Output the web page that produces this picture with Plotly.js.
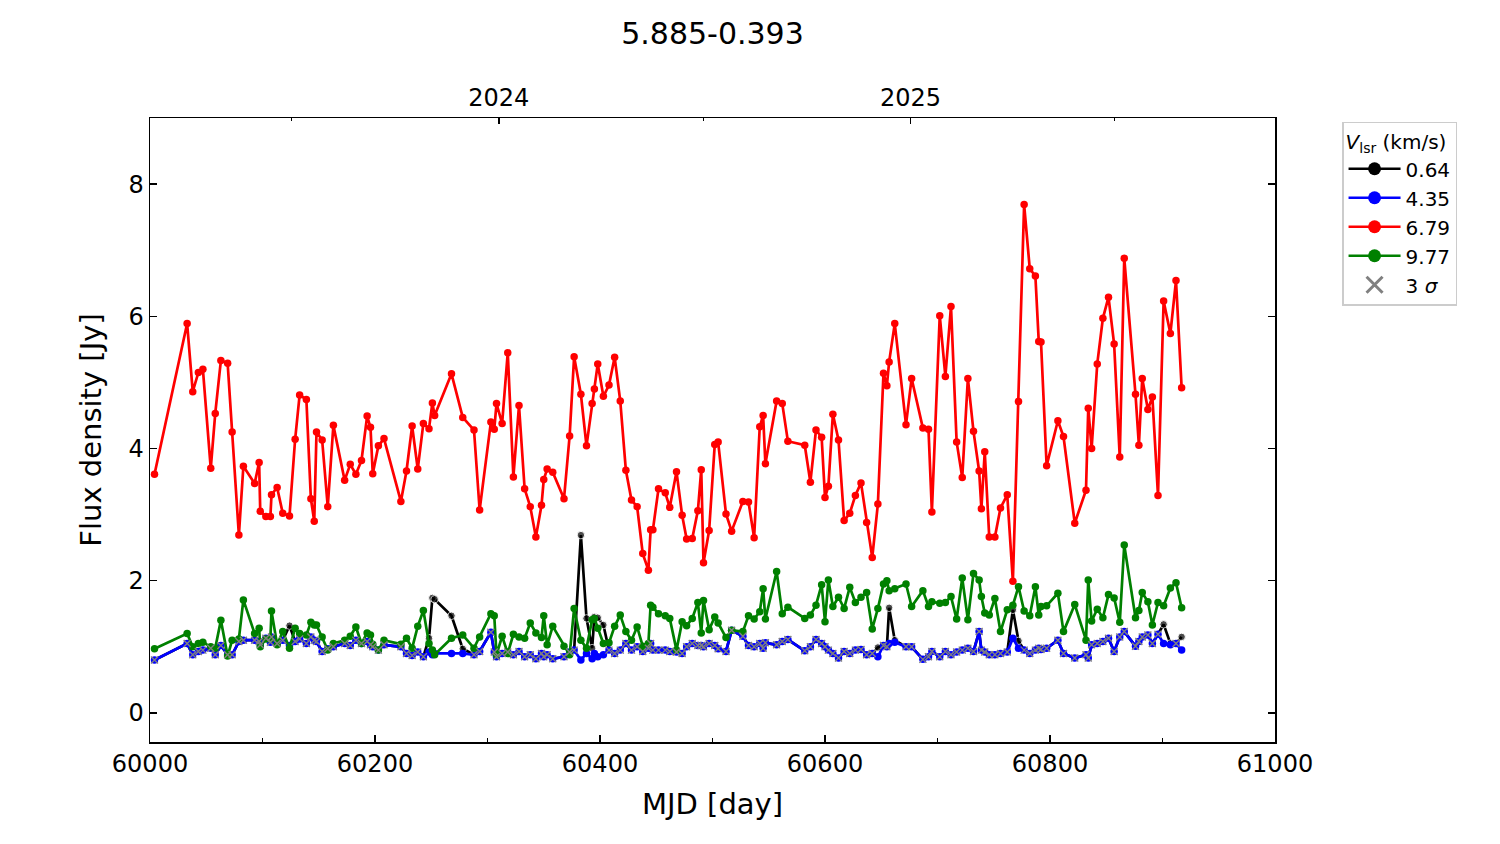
<!DOCTYPE html>
<html>
<head>
<meta charset="utf-8">
<script src="https://cdn.plot.ly/plotly-3.0.1.min.js"></script>
<style>html,body{margin:0;padding:0;background:#fff;}#chart{width:1500px;height:844px;}</style>
</head>
<body>
<div id="chart"></div>
<script>
// Observation epochs (MJD)
const mjd = [60004,60033,60038,60043,60047,60054,60058,60063,60069,60073,
60079,60083,60093,60097,60098,60103,60107,60108,60113,60118,
60124,60129,60133,60139,60143,60146,60148,60153,60158,60163,
60173,60178,60183,60188,60193,60196,60198,60203,60208,60223,
60228,60233,60238,60243,60248,60251,60253,60268,60278,60288,
60293,60303,60306,60308,60313,60318,60323,60328,60333,60338,
60343,60348,60350,60353,60358,60368,60373,60377,60383,60388,
60393,60395,60398,60403,60408,60413,60418,60423,60428,60433,
60438,60443,60445,60447,60452,60458,60462,60468,60473,60477,
60482,60487,60490,60492,60497,60502,60505,60512,60517,60527,
60532,60537,60542,60545,60547,60557,60562,60567,60582,60587,
60592,60597,60600,60603,60607,60612,60617,60622,60627,60632,
60637,60642,60647,60652,60655,60657,60662,60672,60677,60687,
60692,60695,60702,60707,60712,60717,60722,60727,60732,60737,
60739,60742,60746,60751,60756,60762,60767,60772,60777,60782,
60787,60790,60792,60797,60807,60812,60822,60832,60834,60837,
60842,60847,60852,60857,60862,60866,60876,60879,60882,60887,
60891,60896,60901,60907,60912,60917];

// Vlsr = 0.64 km/s (values at non-detections are the 3-sigma limits)
const flux064 = [0.80,1.05,0.88,0.93,0.95,0.98,0.88,1.02,0.88,0.88,
1.08,1.10,1.10,1.08,1.03,1.13,1.07,1.15,1.05,1.10,
1.32,1.08,1.12,1.05,1.15,1.10,1.08,0.93,0.97,1.00,
1.05,1.02,1.10,1.05,1.08,1.03,1.00,0.95,1.03,1.00,
0.90,0.87,0.92,0.85,1.13,1.74,1.72,1.47,0.97,0.88,
0.93,1.22,0.92,0.85,0.90,0.92,0.88,0.93,0.85,0.88,
0.82,0.90,0.85,0.88,0.82,0.85,0.92,0.95,2.69,1.43,
0.98,1.45,1.44,1.33,0.95,0.90,0.95,1.05,0.95,1.00,
0.93,0.98,1.05,0.95,0.95,0.95,0.93,0.92,0.90,1.00,
1.05,1.02,1.02,1.00,1.05,1.02,0.97,0.93,1.25,1.16,
1.02,1.00,1.05,0.98,1.06,1.03,1.08,1.11,0.94,1.00,
1.11,1.05,1.00,0.95,0.90,0.83,0.93,0.90,0.95,0.96,
0.88,0.90,0.99,1.02,1.00,1.59,1.10,1.00,1.00,0.81,
0.85,0.93,0.85,0.93,0.88,0.92,0.95,0.98,0.93,1.23,
0.95,0.92,0.88,0.88,0.90,0.92,1.56,1.09,0.95,0.90,
0.95,0.98,0.96,0.98,1.10,0.90,0.83,0.88,0.83,1.03,
1.05,1.08,1.13,0.93,1.15,1.23,1.01,1.08,1.15,1.18,
1.05,1.19,1.34,1.05,1.05,1.15];
// Epochs where the 0.64 km/s feature is detected (others are 3-sigma limits)
const det064 = [60124,60248,60251,60253,60268,60278,60383,60388,60393,60395,60398,60403,
60647,60657,60662,60767,60772,60901,60907,60917];

// Vlsr = 4.35 km/s
const flux435 = [0.80,1.05,0.88,0.93,0.95,0.98,0.88,1.02,0.88,0.88,
1.08,1.10,1.10,1.08,1.03,1.13,1.07,1.15,1.05,1.10,
1.02,1.08,1.12,1.05,1.15,1.10,1.08,0.93,0.97,1.00,
1.05,1.02,1.10,1.05,1.08,1.03,1.00,0.95,1.03,1.00,
0.90,0.87,0.92,0.85,0.92,0.88,0.90,0.90,0.90,0.88,
0.93,1.22,0.92,0.85,0.90,0.92,0.88,0.93,0.85,0.88,
0.82,0.90,0.85,0.88,0.82,0.85,0.92,0.95,0.80,0.90,
0.82,0.90,0.85,0.88,0.95,0.90,0.95,1.05,0.95,1.00,
0.93,0.98,1.05,0.95,0.95,0.95,0.93,0.92,0.90,1.00,
1.05,1.02,1.02,1.00,1.05,1.02,0.97,0.93,1.25,1.16,
1.02,1.00,1.05,0.98,1.06,1.03,1.08,1.11,0.94,1.00,
1.11,1.05,1.00,0.95,0.90,0.83,0.93,0.90,0.95,0.96,
0.88,0.90,0.85,1.02,1.00,1.05,1.07,1.00,1.00,0.81,
0.85,0.93,0.85,0.93,0.88,0.92,0.95,0.98,0.93,1.23,
0.95,0.92,0.88,0.88,0.90,0.92,1.13,0.98,0.95,0.90,
0.95,0.98,0.96,0.98,1.10,0.90,0.83,0.88,0.83,1.03,
1.05,1.08,1.13,0.93,1.15,1.23,1.01,1.08,1.15,1.18,
1.05,1.19,1.05,1.03,1.05,0.95];

// Vlsr = 6.79 km/s
const flux679 = [3.61,5.89,4.86,5.15,5.20,3.70,4.53,5.33,5.29,4.25,
2.69,3.73,3.47,3.79,3.05,2.97,2.97,3.30,3.41,3.02,
2.98,4.14,4.81,4.74,3.24,2.90,4.25,4.13,3.12,4.35,
3.52,3.76,3.61,3.82,4.49,4.32,3.62,4.04,4.15,3.20,
3.66,4.34,3.69,4.38,4.30,4.69,4.50,5.13,4.47,4.28,
3.07,4.40,4.29,4.68,4.38,5.45,3.57,4.65,3.39,3.12,
2.66,3.14,3.53,3.69,3.64,3.24,4.19,5.39,4.82,4.04,
4.68,4.90,5.28,4.79,4.96,5.38,4.72,3.67,3.22,3.12,
2.41,2.16,2.77,2.77,3.39,3.33,3.11,3.65,2.99,2.63,
2.64,3.06,3.68,2.27,2.76,4.06,4.10,3.01,2.75,3.20,
3.19,2.65,4.33,4.50,3.77,4.72,4.68,4.11,4.05,3.49,
4.28,4.17,3.26,3.43,4.52,4.13,2.91,3.02,3.29,3.48,
2.88,2.35,3.16,5.14,4.95,5.31,5.89,4.36,5.06,4.31,
4.29,3.04,6.01,5.09,6.15,4.10,3.56,5.06,4.26,3.66,
3.09,3.95,2.66,2.66,3.10,3.30,1.99,4.71,7.69,6.72,
6.61,5.62,5.61,3.74,4.42,4.18,2.87,3.37,4.61,4.00,
5.28,5.97,6.29,5.58,3.87,6.88,4.82,4.05,5.06,4.59,
4.78,3.29,6.23,5.74,6.54,4.92];

// Vlsr = 9.77 km/s
const flux977 = [0.97,1.20,1.00,1.05,1.07,1.00,0.98,1.40,0.86,1.10,
1.12,1.71,1.20,1.28,1.00,1.12,1.12,1.54,1.03,1.23,
0.98,1.28,1.20,1.18,1.37,1.33,1.33,1.15,0.95,1.05,
1.10,1.16,1.30,1.05,1.21,1.18,1.04,0.95,1.10,1.04,
1.13,0.98,1.31,1.55,1.05,0.95,0.88,1.13,1.18,0.98,
1.15,1.50,1.47,0.88,1.16,0.90,1.19,1.15,1.13,1.36,
1.21,1.14,1.47,1.03,1.31,1.01,0.88,1.58,1.10,0.98,
1.41,1.43,1.28,1.05,1.06,1.31,1.48,1.23,1.10,1.30,
1.01,1.05,1.63,1.60,1.50,1.47,1.43,0.95,1.38,1.32,
1.43,1.67,1.21,1.70,1.26,1.45,1.36,1.14,1.25,1.23,
1.47,1.42,1.53,1.88,1.42,2.14,1.50,1.60,1.43,1.48,
1.63,1.94,1.38,2.01,1.61,1.75,1.58,1.90,1.67,1.75,
1.82,1.27,1.58,1.95,2.00,1.85,1.88,1.95,1.61,1.85,
1.61,1.68,1.66,1.67,1.76,1.42,2.04,1.41,2.11,2.01,
1.76,1.51,1.48,1.73,1.23,1.56,1.63,1.91,1.54,1.47,
1.91,1.48,1.61,1.62,1.81,1.23,1.64,1.10,2.01,1.39,
1.57,1.44,1.79,1.74,1.37,2.54,1.44,1.55,1.82,1.68,
1.33,1.67,1.62,1.89,1.97,1.59];

const seriesNames = ['0.64','4.35','6.79','9.77'];
const sigmaLabel = '3 <i>σ</i>';
const xTickVals = [60000,60200,60400,60600,60800,61000];
const xTickText = ['60000','60200','60400','60600','60800','61000'];
const xMinorVals = [60100,60300,60500,60700,60900];
const yearTickVals = [60310,60676];
const yearTickText = ['2024','2025'];
const halfYearVals = [60126,60492,60857];
const yTickVals = [0,2,4,6,8];
const yTickText = ['0','2','4','6','8'];

const LW = 2.7, MS = 7.5;
const isDet = mjd.map(d => det064.includes(d));
const limX = mjd.filter((d,i) => !isDet[i]);
const limY = flux064.filter((v,i) => !isDet[i]);

const traces = [
  {x: mjd, y: flux064, mode:'lines+markers', line:{color:'black', width:LW},
   marker:{color:'black', size: isDet.map(b => b ? MS : 0)}, showlegend:false, hoverinfo:'skip'},
  {x: mjd, y: flux435, mode:'lines+markers', line:{color:'#0000ff', width:LW},
   marker:{color:'#0000ff', size:MS}, showlegend:false, hoverinfo:'skip'},
  {x: mjd, y: flux679, mode:'lines+markers', line:{color:'#ff0000', width:LW},
   marker:{color:'#ff0000', size:MS}, showlegend:false, hoverinfo:'skip'},
  {x: mjd, y: flux977, mode:'lines+markers', line:{color:'#008000', width:LW},
   marker:{color:'#008000', size:MS}, showlegend:false, hoverinfo:'skip'},
  {x: limX, y: limY, mode:'markers',
   marker:{symbol:'x-thin', size:7, color:'#808080', line:{color:'#808080', width:1.4}}, showlegend:false, hoverinfo:'skip'},
  // top axis carrier
  {x:[60000,61000], y:[null,null], xaxis:'x2', yaxis:'y', mode:'lines', showlegend:false, hoverinfo:'skip'},
  // legend entries
  {x:[null], y:[null], name:seriesNames[0], mode:'lines+markers', line:{color:'black', width:LW}, marker:{color:'black', size:13}},
  {x:[null], y:[null], name:seriesNames[1], mode:'lines+markers', line:{color:'#0000ff', width:LW}, marker:{color:'#0000ff', size:13}},
  {x:[null], y:[null], name:seriesNames[2], mode:'lines+markers', line:{color:'#ff0000', width:LW}, marker:{color:'#ff0000', size:13}},
  {x:[null], y:[null], name:seriesNames[3], mode:'lines+markers', line:{color:'#008000', width:LW}, marker:{color:'#008000', size:13}},
  {x:[null], y:[null], name:sigmaLabel, mode:'markers', marker:{symbol:'x-thin', size:16, color:'#808080', line:{color:'#808080', width:3}}}
];

const F = 'DejaVu Sans, Arial, sans-serif';
const layout = {
  width:1500, height:844,
  margin:{l:150, r:225, t:118, b:102},
  paper_bgcolor:'white', plot_bgcolor:'white',
  font:{family:F, size:24, color:'black'},
  title:{text:'5.885-0.393', x:0.5, xref:'paper', xanchor:'center', y:1-33/844, yref:'container', yanchor:'middle',
         font:{family:F, size:30, color:'black'}},
  showlegend:true,
  legend:{x:1.0596, y:0.994, xanchor:'left', yanchor:'top', xref:'paper', yref:'paper',
          bgcolor:'white', bordercolor:'#cccccc', borderwidth:1.5,
          font:{family:F, size:20, color:'black'},
          title:{text:'<i>V</i><sub>lsr</sub> (km/s)', font:{family:F, size:20, color:'black'}},
          tracegroupgap:0, itemwidth:52},
  xaxis:{range:[60000,61000], tickmode:'array', tickvals:xTickVals, ticktext:xTickText, ticks:'inside', ticklen:7, tickwidth:1.5,
         tickcolor:'black', showline:true, linecolor:'black', linewidth:1.5, mirror:true,
         showgrid:false, zeroline:false, tickfont:{family:F, size:24},
         minor:{tickmode:'array', tickvals:xMinorVals, ticks:'inside', ticklen:4, tickwidth:1.2, tickcolor:'black', showgrid:false},
         title:{text:'MJD [day]', font:{family:F, size:29}, standoff:16}},
  xaxis2:{range:[60000,61000], overlaying:'x', side:'top', anchor:'y', tickmode:'array',
          tickvals:yearTickVals, ticktext:yearTickText, ticks:'inside', ticklen:6, tickwidth:1.5, tickcolor:'black',
          showline:false, showgrid:false, zeroline:false, tickfont:{family:F, size:24}, ticklabelstandoff:6,
          minor:{tickmode:'array', tickvals:halfYearVals, ticks:'inside', ticklen:3, tickwidth:1.2, tickcolor:'black', showgrid:false}},
  yaxis:{range:[-0.44, 9.0], tickmode:'array', tickvals:yTickVals, ticktext:yTickText, ticks:'inside', ticklen:7, tickwidth:1.5,
         tickcolor:'black', showline:true, linecolor:'black', linewidth:1.5, mirror:'ticks',
         showgrid:false, zeroline:false, tickfont:{family:F, size:24},
         title:{text:'Flux density [Jy]', font:{family:F, size:29}, standoff:18}}
};

Plotly.newPlot('chart', traces, layout, {staticPlot:true, displayModeBar:false});
</script>
</body>
</html>
